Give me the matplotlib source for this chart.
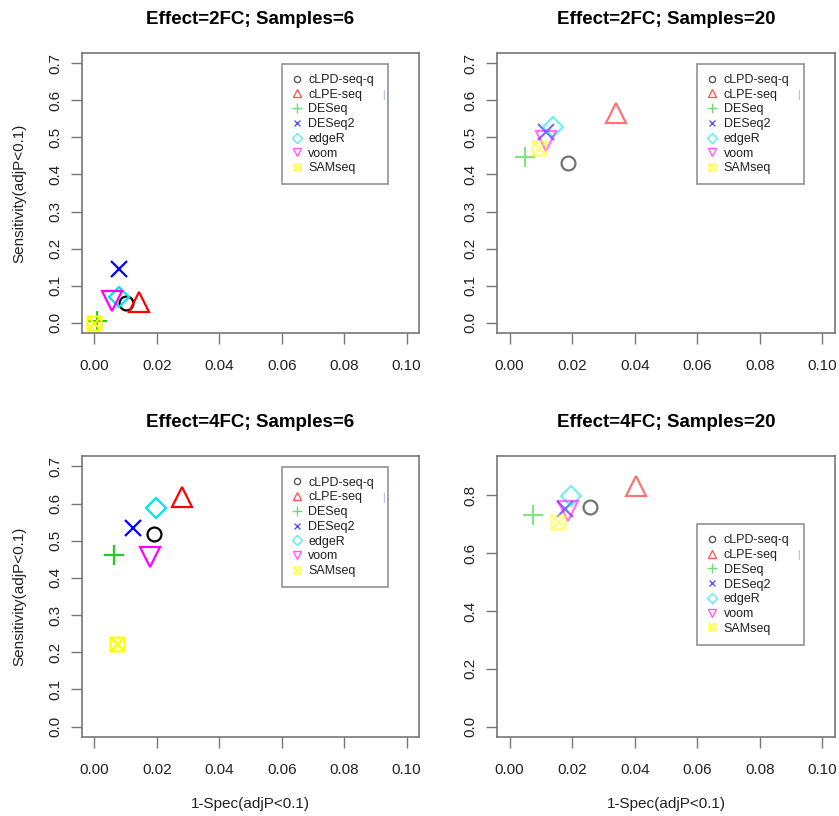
import matplotlib.pyplot as plt
import numpy as np
from matplotlib.path import Path

plt.rcParams['font.family'] = ['Liberation Sans', 'DejaVu Sans']

methods = ['cLPD-seq-q', 'cLPE-seq', 'DESeq', 'DESeq2', 'edgeR', 'voom', 'SAMseq']
colors = ['#000000', '#ff0000', '#22cc22', '#0000ff', '#00e5ee', '#ff00ff', '#ffff00']

# 1-specificity (x) and sensitivity (y) per panel, in method order
x_2fc_6 = [0.0101, 0.0144, 0.0007, 0.0077, 0.0077, 0.0055, 0.0000]
y_2fc_6 = [0.053, 0.055, 0.005, 0.145, 0.068, 0.058, 0.000]
x_2fc_20 = [0.0187, 0.0339, 0.0048, 0.0116, 0.0139, 0.0118, 0.0094]
y_2fc_20 = [0.431, 0.565, 0.448, 0.516, 0.529, 0.490, 0.472]
x_4fc_6 = [0.0192, 0.0280, 0.0063, 0.0123, 0.0196, 0.0178, 0.0071]
y_4fc_6 = [0.519, 0.619, 0.461, 0.533, 0.588, 0.455, 0.221]
x_4fc_20 = [0.0257, 0.0404, 0.0075, 0.0178, 0.0198, 0.0187, 0.0155]
y_4fc_20 = [0.759, 0.831, 0.733, 0.754, 0.797, 0.746, 0.706]

titles = ['Effect=2FC; Samples=6', 'Effect=2FC; Samples=20',
          'Effect=4FC; Samples=6', 'Effect=4FC; Samples=20']
ymax = [0.7, 0.7, 0.7, 0.9]
yticks = [np.arange(0, 0.71, 0.1), np.arange(0, 0.71, 0.1),
          np.arange(0, 0.71, 0.1), np.arange(0, 0.81, 0.2)]
alphas = [1.0, 0.55, 1.0, 0.55]
legend_top = [0.961, 0.961, 0.962, 0.757]

# square with an X through it (R pch 7)
box_x = Path([(-1, -1), (1, -1), (1, 1), (-1, 1), (-1, -1),
              (-1, -1), (1, 1), (-1, 1), (1, -1)],
             [Path.MOVETO, Path.LINETO, Path.LINETO, Path.LINETO, Path.CLOSEPOLY,
              Path.MOVETO, Path.LINETO, Path.MOVETO, Path.LINETO])

markers = ['o', '^', '+', 'x', 'D', 'v', box_x]
sizes = [10, 15, 14.5, 12, 10.5, 15, 10]
small = [4.5, 6, 7, 5, 5, 6, 5]

data = [(x_2fc_6, y_2fc_6), (x_2fc_20, y_2fc_20),
        (x_4fc_6, y_4fc_6), (x_4fc_20, y_4fc_20)]

W, H = 839, 816
fig = plt.figure(figsize=(W / 100, H / 100), dpi=100)
boxes = [(82, 53, 419, 333), (497, 53, 835, 333),
         (82, 456, 419, 737), (497, 456, 835, 737)]

box_col = '#777777'
txt_col = '#222222'
leg_w = 0.315
leg_h = 0.42

for i, (xs, ys) in enumerate(data):
    l, t, r, b = boxes[i]
    ax = fig.add_axes([l / W, 1 - b / H, (r - l) / W, (b - t) / H])
    for j, m in enumerate(methods):
        ax.plot(xs[j], ys[j], linestyle='none', marker=markers[j], markersize=sizes[j],
                markerfacecolor='none', markeredgecolor=colors[j], markeredgewidth=1.6,
                alpha=alphas[i], label=m)
    ax.set_xlim(-0.004, 0.104)
    ax.set_ylim(-0.04 * ymax[i], ymax[i] * 1.04)
    ax.set_xticks(np.arange(0, 0.101, 0.02))
    ax.set_xticklabels(['%.2f' % v for v in np.arange(0, 0.101, 0.02)])
    ax.set_yticks(yticks[i])
    ax.set_yticklabels(['%.1f' % v for v in yticks[i]], rotation=90, va='center')
    for s in ax.spines.values():
        s.set_color(box_col)
        s.set_linewidth(1.2)
    ax.tick_params(axis='both', direction='out', length=8, width=1.0, color=box_col,
                   labelcolor=txt_col, labelsize=11)
    ax.tick_params(axis='x', pad=11)
    ax.tick_params(axis='y', pad=6)
    ax.set_title(titles[i], fontsize=13.5, fontweight='bold', pad=21)
    if i in (0, 2):
        ax.set_ylabel('Sensitivity(adjP<0.1)', fontsize=11, color=txt_col, labelpad=16)
    if i in (2, 3):
        ax.set_xlabel('1-Spec(adjP<0.1)', fontsize=11, color=txt_col, labelpad=14)

    handles = []
    for j, m in enumerate(methods):
        h, = ax.plot([], [], linestyle='none', marker=markers[j], markersize=small[j],
                     markerfacecolor='none', markeredgecolor=colors[j],
                     markeredgewidth=1.0, alpha=0.65, label=m)
        handles.append(h)
    top = legend_top[i]
    leg = ax.legend(handles=handles, loc='upper left', mode='expand',
                    bbox_to_anchor=(0.593, top - leg_h, leg_w, leg_h),
                    fontsize=9, frameon=True, fancybox=False, handlelength=0.8,
                    handletextpad=0.5, labelspacing=0.22, borderpad=0.8,
                    borderaxespad=0)
    leg.get_frame().set_edgecolor(box_col)
    leg.get_frame().set_linewidth(1.2)
    for tx in leg.get_texts():
        tx.set_color(txt_col)
    # small stray tick R leaves inside the legend box
    ax.text(0.893, top - 0.11, '|', transform=ax.transAxes, fontsize=7,
            color='#8fa6cf', ha='center', va='center', zorder=10)

fig.savefig('out.png', dpi=100)
